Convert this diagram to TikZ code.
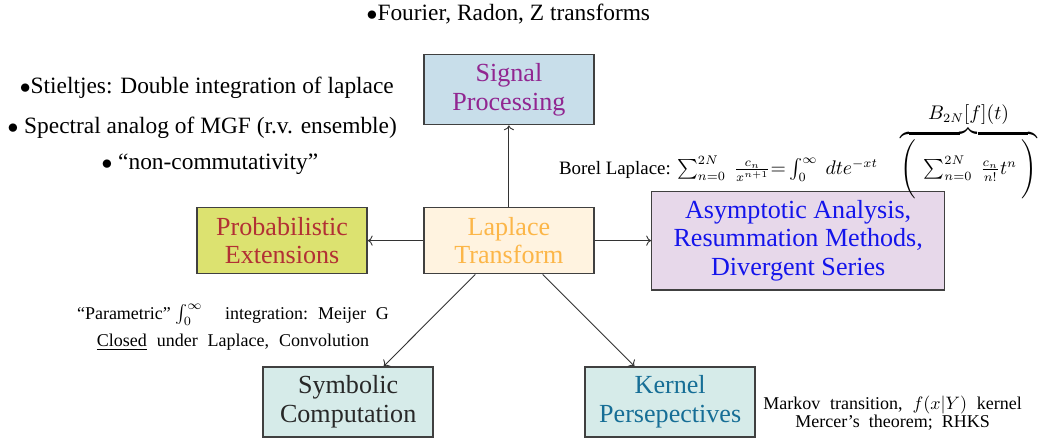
\documentclass[tikz,border=0pt]{standalone}
\usepackage[no-math]{fontspec}
\setmainfont{Liberation Serif}
\usepackage{xcolor}
\usepackage{amsmath}
\usepackage{tikz}
\usetikzlibrary{arrows.meta}

\definecolor{sigfill}{RGB}{200,222,234}
\definecolor{sigtext}{RGB}{145,38,145}
\definecolor{lapfill}{RGB}{255,243,224}
\definecolor{laptext}{RGB}{252,182,72}
\definecolor{probfill}{RGB}{220,226,112}
\definecolor{probtext}{RGB}{178,48,52}
\definecolor{asymfill}{RGB}{231,216,234}
\definecolor{asymtext}{RGB}{20,20,235}
\definecolor{symfill}{RGB}{214,235,233}
\definecolor{symtext}{RGB}{40,40,40}
\definecolor{kertext}{RGB}{22,110,150}

\newcommand{\gap}{\hspace{0.55em}}

\begin{document}
\begin{tikzpicture}[
  box/.style={draw=black!75, line width=0.8pt, minimum width=3.32cm,
    minimum height=1.37cm, align=center, font=\fontsize{14.5}{16}\selectfont},
  bullet/.style={anchor=base, font=\fontsize{13}{15}\selectfont},
  remark/.style={align=center, font=\fontsize{10}{12}\selectfont},
  link/.style={-{To}, draw=black!80, line width=0.5pt}]
\useasboundingbox (0,0) rectangle (20.43,8.59);

% boxes
\node[box, fill=lapfill, text=laptext, minimum height=1.29cm] (lap) at (9.94,3.89) {Laplace\\Transform};
\node[box, fill=sigfill, text=sigtext] (sig) at (9.94,6.84) {Signal\\Processing};
\node[box, fill=probfill, text=probtext, minimum height=1.29cm] (prob) at (5.51,3.89) {Probabilistic\\Extensions};
\node[box, fill=asymfill, text=asymtext, minimum width=5.72cm, minimum height=1.93cm] (asym) at (15.59,3.89)
  {Asymptotic Analysis,\\Resummation Methods,\\Divergent Series};
\node[box, fill=symfill, text=symtext] (sym) at (6.80,0.74) {Symbolic\\Computation};
\node[box, fill=symfill, text=kertext] (ker) at (13.09,0.74) {Kernel\\Persepectives};

% arrows out of the laplace box
\draw[link] (lap) -- (sig);
\draw[link] (lap) -- (prob);
\draw[link] (lap) -- (asym);
\draw[link] (lap) -- (sym);
\draw[link] (lap) -- (ker);

% side notes
\node[bullet] (four) at (9.93,8.18) {$\bullet$Fourier, Radon, Z transforms};
\node[bullet] (stie) at (4.04,6.76) {$\bullet$Stieltjes: Double integration of laplace};
\node[bullet] (spec) at (3.95,5.98) {$\bullet$ Spectral analog of MGF (r.v. ensemble)};
\node[bullet] (nonc) at (4.1,5.27) {$\bullet$ ``non-commutativity''};

\node[remark, anchor=base, font=\fontsize{10.5}{12}\selectfont] (borel) at (15.59,5.18)
  {Borel Laplace: $\sum_{n=0}^{2N}\ \frac{c_n}{x^{n+1}}{=}\int_0^\infty\ dt e^{-xt}\quad
   \overbrace{\textstyle\Bigg(\ \sum_{n=0}^{2N}\ \frac{c_n}{n!}t^n\ \Bigg)}^{\textstyle B_{2N}[f](t)}$};
\node[remark] (meij) at (4.55,2.2)
  {``Parametric'' $\int_0^\infty$\quad\ integration:\gap Meijer\gap G\\[3pt]
   \underline{Closed}\gap under\gap Laplace,\gap Convolution};
\node[remark, anchor=west] (mark) at ([xshift=0.02cm,yshift=-0.22cm]ker.east)
  {Markov\gap transition,\gap $f(x|Y)$\gap kernel\\[-2pt]
   Mercer's\ \ theorem;\ \ RHKS};
\end{tikzpicture}
\end{document}
